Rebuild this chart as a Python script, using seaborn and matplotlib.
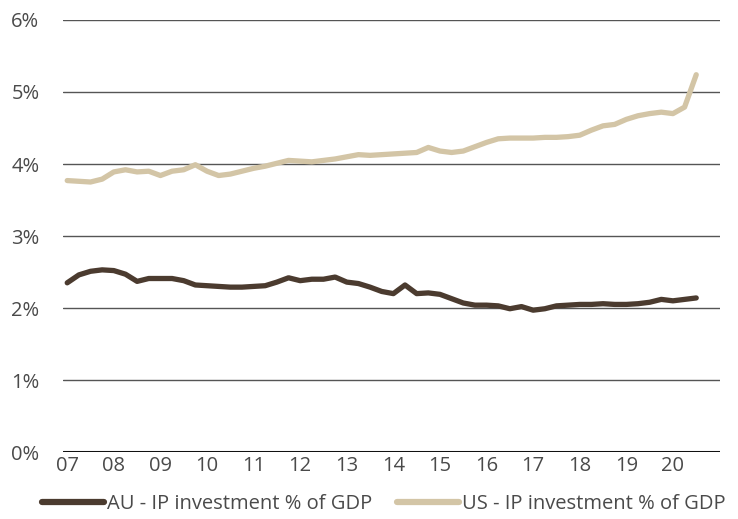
import numpy as np
import pandas as pd
import matplotlib
matplotlib.use("Agg")
import matplotlib.pyplot as plt
import seaborn as sns
from matplotlib.lines import Line2D

# Quarterly IP investment as % of GDP, 2007Q1 - 2020Q3
quarters = [f"{y}Q{q}" for y in range(2007, 2021) for q in range(1, 5)][:55]

au_ip = [2.35, 2.46, 2.51, 2.53, 2.52, 2.47, 2.37, 2.41, 2.41, 2.41,
         2.38, 2.32, 2.31, 2.30, 2.29, 2.29, 2.30, 2.31, 2.36, 2.42,
         2.38, 2.40, 2.40, 2.43, 2.36, 2.34, 2.29, 2.23, 2.20, 2.32,
         2.20, 2.21, 2.19, 2.13, 2.07, 2.04, 2.04, 2.03, 1.99, 2.02,
         1.97, 1.99, 2.03, 2.04, 2.05, 2.05, 2.06, 2.05, 2.05, 2.06,
         2.08, 2.12, 2.10, 2.12, 2.14]

us_ip = [3.77, 3.76, 3.75, 3.79, 3.89, 3.92, 3.89, 3.90, 3.84, 3.90,
         3.92, 3.99, 3.90, 3.84, 3.86, 3.90, 3.94, 3.97, 4.01, 4.05,
         4.04, 4.03, 4.05, 4.07, 4.10, 4.13, 4.12, 4.13, 4.14, 4.15,
         4.16, 4.23, 4.18, 4.16, 4.18, 4.24, 4.30, 4.35, 4.36, 4.36,
         4.36, 4.37, 4.37, 4.38, 4.40, 4.47, 4.53, 4.55, 4.62, 4.67,
         4.70, 4.72, 4.70, 4.79, 5.24]

series_names = ["AU - IP investment % of GDP", "US - IP investment % of GDP"]
series_colors = ["#4b3b2f", "#d3c5a6"]

year_ticks = list(range(2007, 2021))
year_labels = [f"{y % 100:02d}" for y in year_ticks]
pct_ticks = [0, 1, 2, 3, 4, 5, 6]
pct_labels = [f"{v}%" for v in pct_ticks]

t = [int(q[:4]) + (int(q[-1]) - 1) / 4 for q in quarters]
df = pd.DataFrame({
    "t": t * 2,
    "value": au_ip + us_ip,
    "series": [series_names[0]] * len(au_ip) + [series_names[1]] * len(us_ip),
})

sns.set_style("white")
plt.rcParams["font.family"] = ["Open Sans", "DejaVu Sans"]
text_color = "#4a4a4a"

fig = plt.figure(figsize=(7.38, 5.19), dpi=100)
ax = fig.add_axes([0.0854, 0.129, 0.8902, 0.8325])

# Gridlines drawn beneath the data
for v in pct_ticks[1:]:
    ax.axhline(v, color="#555555", lw=1.0, zorder=1)
ax.axhline(0, color="#111111", lw=2.2, zorder=1)

sns.lineplot(data=df, x="t", y="value", hue="series",
             palette=dict(zip(series_names, series_colors)),
             linewidth=3.8, ax=ax, legend=False, zorder=3)
for ln in ax.get_lines():
    ln.set_solid_capstyle("round")
    ln.set_solid_joinstyle("round")

ax.set_xlim(2006.91, 2021.01)
ax.set_ylim(0, 6)
ax.set_xticks(year_ticks)
ax.set_xticklabels(year_labels)
ax.set_yticks(pct_ticks)
ax.set_yticklabels(pct_labels)
ax.set_xlabel("")
ax.set_ylabel("")
ax.tick_params(axis="both", length=0, labelsize=14.5, colors=text_color)
ax.tick_params(axis="y", pad=17)
ax.tick_params(axis="x", pad=3)
for s in ax.spines.values():
    s.set_visible(False)

handles = [Line2D([0], [0], color=c, lw=4.5, solid_capstyle="round") for c in series_colors]
fig.legend(handles, series_names, loc="lower center", bbox_to_anchor=(0.52, -0.025),
           ncol=2, frameon=False, fontsize=14.5, handlelength=3.1,
           handletextpad=0.15, columnspacing=1.2, labelcolor=text_color)

fig.savefig("out.png", dpi=100, facecolor="white")
